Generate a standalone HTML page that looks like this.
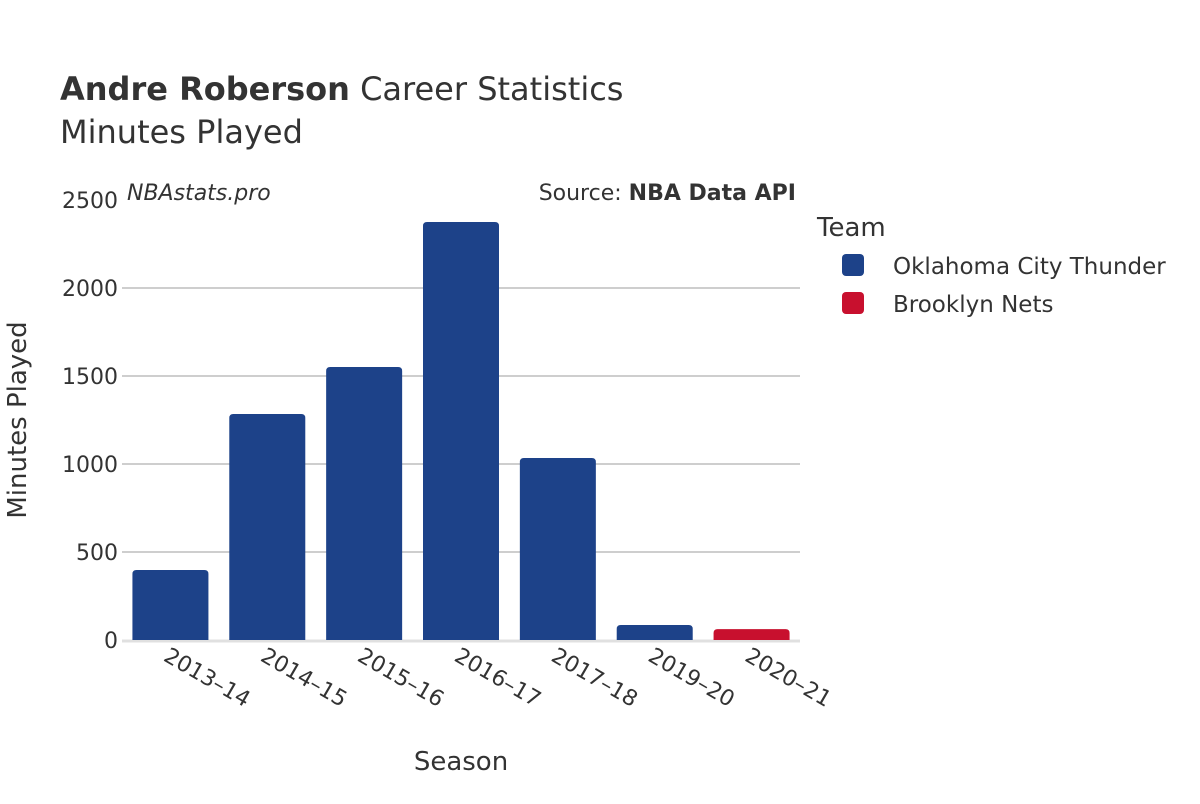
<!DOCTYPE html>
<html><head><meta charset="utf-8"><style>
body{margin:0;background:#fff;font-family:"DejaVu Sans","Liberation Sans",sans-serif;}
</style></head><body>
<svg width="1200" height="800" xmlns="http://www.w3.org/2000/svg" font-family="DejaVu Sans, Liberation Sans, sans-serif">
<rect width="1200" height="800" fill="#fff"/>
<text x="60" y="100" font-size="32" fill="#333"><tspan font-weight="bold">Andre Roberson</tspan> Career Statistics</text>
<text x="60" y="143" font-size="32" fill="#333">Minutes Played</text>
<text x="127" y="200" font-size="22" font-style="italic" fill="#333">NBAstats.pro</text>
<text x="796" y="200" font-size="22" fill="#333" text-anchor="end">Source: <tspan font-weight="bold">NBA Data API</tspan></text>
<g id="grid"></g>
<g id="bars"></g>
<g id="xlabels"></g>
<text x="461" y="770" font-size="26" fill="#333" text-anchor="middle">Season</text>
<text transform="translate(26,420) rotate(-90)" font-size="26" fill="#333" text-anchor="middle">Minutes Played</text>
<text x="817" y="236" font-size="26" fill="#333">Team</text>
<g><rect x="842" y="254" width="22" height="22" rx="4" fill="#1d4289"/><text x="893" y="274" font-size="23" fill="#333">Oklahoma City Thunder</text></g>
<g><rect x="842" y="292" width="22" height="22" rx="4" fill="#c8102e"/><text x="893" y="312" font-size="23" fill="#333">Brooklyn Nets</text></g>
</svg>
<script>
const seasons=["2013–14","2014–15","2015–16","2016–17","2017–18","2019–20","2020–21"];
const minutes=[398,1284,1551,2375,1034,85,62];
const teams=["okc","okc","okc","okc","okc","okc","bkn"];
const yTicks=[0,500,1000,1500,2000,2500];
const colors={okc:"#1d4289",bkn:"#c8102e"};
const NS="http://www.w3.org/2000/svg";
const x0=122,x1=800,yBase=640,yTop=200,yMax=2500;
const y=v=>yBase-(v/yMax)*(yBase-yTop);
const band=(x1-x0)/seasons.length;
const xc=i=>x0+band*(i+0.5);
const grid=document.getElementById('grid');
yTicks.forEach(t=>{
 if(t>0&&t<yMax){const l=document.createElementNS(NS,'line');
 l.setAttribute('x1',x0);l.setAttribute('x2',x1);l.setAttribute('y1',y(t));l.setAttribute('y2',y(t));
 l.setAttribute('stroke','#b0b0b0');l.setAttribute('stroke-width','1.3');
 
 grid.appendChild(l);}
 const tx=document.createElementNS(NS,'text');
 tx.setAttribute('x',118);tx.setAttribute('y',y(t)+8);tx.setAttribute('text-anchor','end');
 tx.setAttribute('font-size','22');tx.setAttribute('fill','#333');tx.textContent=t;
 
 grid.appendChild(tx);
});
const base=document.createElementNS(NS,'line');
base.setAttribute('x1',x0);base.setAttribute('x2',x1);base.setAttribute('y1',yBase+1);base.setAttribute('y2',yBase+1);
base.setAttribute('stroke','#e0e0e0');base.setAttribute('stroke-width','3');

grid.appendChild(base);
const bars=document.getElementById('bars'),xl=document.getElementById('xlabels');
const bw=76,r=4;
seasons.forEach((s,i)=>{
 const top=y(minutes[i]),h=yBase-top,l=xc(i)-bw/2,rr=Math.min(r,h);
 const p=document.createElementNS(NS,'path');
 p.setAttribute('d',`M${l},${yBase}V${top+rr}Q${l},${top} ${l+rr},${top}H${l+bw-rr}Q${l+bw},${top} ${l+bw},${top+rr}V${yBase}Z`);
 p.setAttribute('fill',colors[teams[i]]);
 
 bars.appendChild(p);
 const t=document.createElementNS(NS,'text');
 t.setAttribute('transform',`translate(${xc(i)-8},${660}) rotate(30)`);
 t.setAttribute('font-size','22');t.setAttribute('fill','#333');t.textContent=s;
 
 xl.appendChild(t);
});
</script>
</body></html>
